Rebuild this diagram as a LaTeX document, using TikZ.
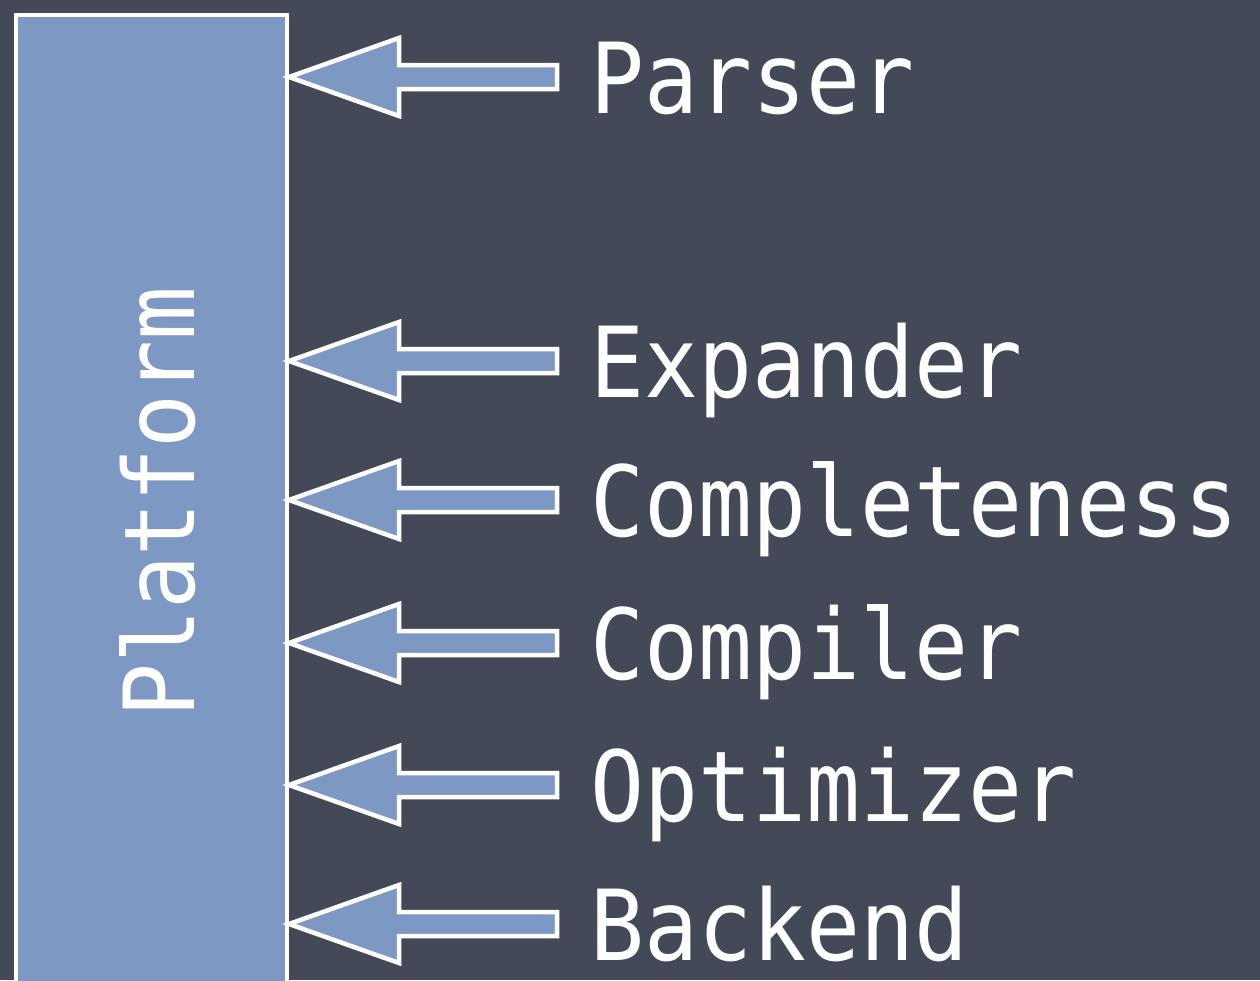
\documentclass[tikz,border=0pt]{standalone}
\usepackage{fontspec}
\newfontfamily\chalk{DejaVu Sans Mono}
\definecolor{slate}{HTML}{434957}
\definecolor{steel}{HTML}{7D98C2}
% condensed rounded lettering used for all labels
\newcommand\chalktext[1]{\scalebox{0.915}[1]{\chalk\fontsize{98}{110}\selectfont #1}}
\tikzset{
  label/.style={anchor=base west, text=white, inner sep=0pt},
  blockarrow/.style={draw=white, line width=4.5pt, fill=steel, line join=miter},
  platformbox/.style={draw=white, line width=4pt, fill=steel, anchor=north west,
    minimum width=271pt, minimum height=1000pt, inner sep=0pt}
}
% left-pointing block arrow from a tail coordinate to a tip coordinate
\newcommand\feedarrow[2]{%
  \draw[blockarrow] (#2) -- ++(110,-39) -- ++(0,27) -- ($(#1)+(0,-12)$)
    -- ($(#1)+(0,12)$) -- ($(#2)+(110,12)$) -- ++(0,27) -- cycle;
}
\usetikzlibrary{calc}
\begin{document}
\begin{tikzpicture}[x=1pt,y=-1pt]
  \useasboundingbox (0,0) rectangle (1260,980);
  \clip (0,0) rectangle (1260,980);
  \fill[slate] (0,0) rectangle (1260,980);

  \node[platformbox] (platform) at (14,13) {};
  \node[text=white, rotate=90, inner sep=0pt] (ptext) at (158,502) {\chalktext{Platform}};

  \foreach \name/\yc in {Parser/77, Expander/361, Completeness/500, Compiler/643, Optimizer/785, Backend/924}{
    \coordinate (tail\name) at (557,\yc);
    \coordinate (tip\name) at (platform.east |- tail\name);
    \node[label] (lab\name) at (590,\yc+36) {\chalktext{\name}};
    \feedarrow{tail\name}{tip\name}
  }
\end{tikzpicture}
\end{document}
